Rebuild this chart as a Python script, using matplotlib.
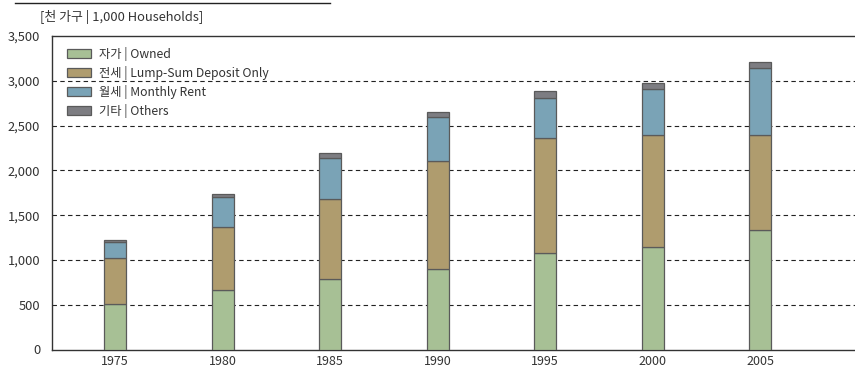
import matplotlib
matplotlib.use("Agg")
import matplotlib.pyplot as plt
import numpy as np

plt.rcParams['font.family'] = ['Noto Sans CJK KR', 'DejaVu Sans']

years = ['1975', '1980', '1985', '1990', '1995', '2000', '2005']
owned = [505, 666, 792, 897, 1076, 1147, 1334]
jeonse = [517, 700, 886, 1211, 1286, 1245, 1058]
monthly = [180, 337, 459, 489, 441, 512, 750]
others = [23, 34, 60, 60, 86, 67, 68]
series_labels = ['자가 | Owned', '전세 | Lump-Sum Deposit Only', '월세 | Monthly Rent', '기타 | Others']
colors = ['#a7c095', '#af9c6e', '#7aa3b6', '#7d7d82']
yticks = [0, 500, 1000, 1500, 2000, 2500, 3000, 3500]

fig = plt.figure(figsize=(8.55, 3.71), dpi=100)
ax = fig.add_axes([52/855, 1 - 349.5/371, 1 - 52/855, (349.5 - 36)/371])

x = np.arange(len(years))
bottom = np.zeros(len(years))
for vals, lab, c in zip([owned, jeonse, monthly, others], series_labels, colors):
    ax.bar(x, vals, width=0.205, bottom=bottom, color=c, edgecolor='#5a5a5a',
           linewidth=0.9, label=lab, zorder=3)
    bottom += np.array(vals)

ax.set_ylim(0, 3500)
ax.set_xlim(-0.586, 6.88)
ax.set_yticks(yticks)
ax.set_yticklabels([f'{v:,}' for v in yticks], fontsize=9.3, color='#333333')
ax.set_xticks(x)
ax.set_xticklabels(years, fontsize=9, color='#333333')
ax.tick_params(axis='both', length=0)
ax.tick_params(axis='y', pad=8.5)
ax.tick_params(axis='x', pad=4)
for yv in yticks[1:-1]:
    ax.axhline(yv, color='#222222', linestyle=(0, (4, 3)), linewidth=0.8, zorder=1)

for s in ['top', 'left', 'bottom']:
    ax.spines[s].set_color('#333333')
    ax.spines[s].set_linewidth(1.0)
ax.spines['right'].set_visible(False)

leg = ax.legend(loc='upper left', bbox_to_anchor=(0.008, 0.992), frameon=False,
                fontsize=8.8, handlelength=2.0, handleheight=0.8, labelspacing=0.4,
                handletextpad=0.6, borderaxespad=0.3)
for t in leg.get_texts():
    t.set_color('#333333')

fig.text(40/855, 1 - 17/371, '[천 가구 | 1,000 Households]', fontsize=9.3,
         color='#333333', va='center', ha='left')
fig.add_artist(plt.Line2D([15/855, 330/855], [1 - 3/371, 1 - 3/371],
                          color='#222222', linewidth=1.0, transform=fig.transFigure))

fig.savefig('out.png', dpi=100)
